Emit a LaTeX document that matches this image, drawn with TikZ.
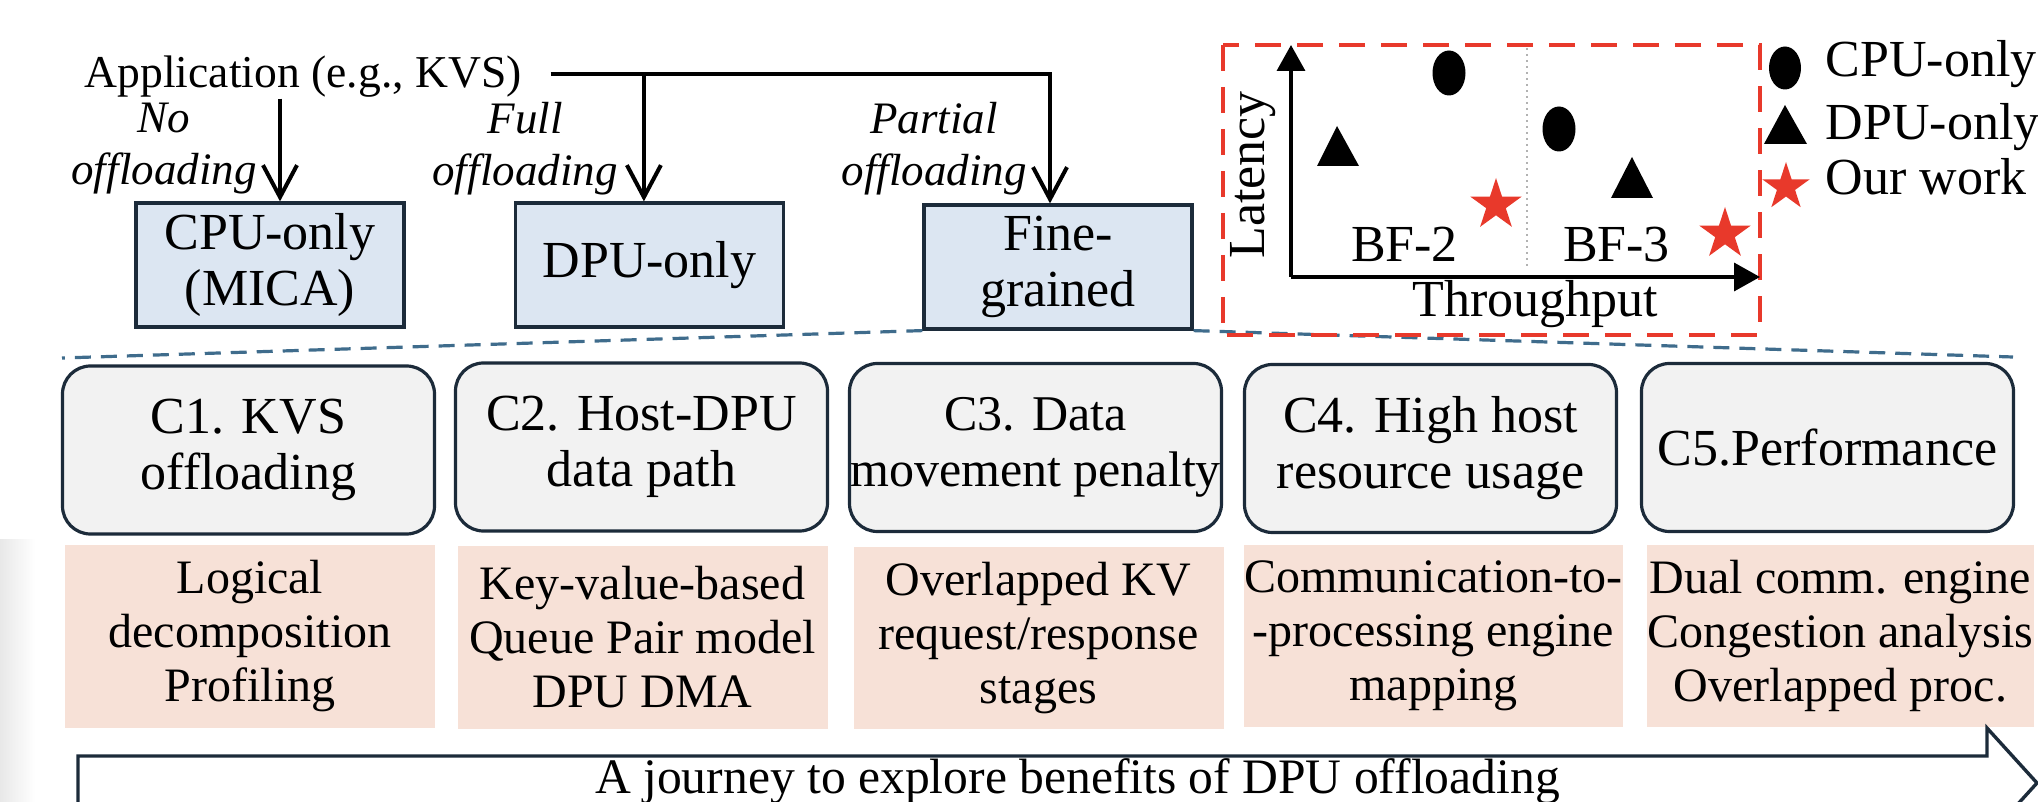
\documentclass[tikz,border=0pt]{standalone}
\usepackage{fontspec}
\setmainfont{Liberation Serif}
\usetikzlibrary{arrows.meta,shapes.geometric,calc}
\definecolor{boxblue}{HTML}{DCE6F2}
\definecolor{navy}{HTML}{1C2B3A}
\definecolor{cgray}{HTML}{F2F2F2}
\definecolor{peach}{HTML}{F7E1D7}
\definecolor{dashblue}{HTML}{3F6C8C}
\definecolor{starred}{HTML}{E8392B}
\newcommand\fsz[2]{\fontsize{#1}{#2}\selectfont}

\begin{document}
\begin{tikzpicture}[x=0.25pt,y=-0.25pt,
  topbox/.style={draw=navy, line width=0.8pt, fill=boxblue, minimum width=67pt,
    minimum height=31pt, inner sep=0pt, align=center, font=\fsz{13}{14}},
  cbox/.style={draw=navy, line width=0.8pt, fill=cgray, rounded corners=7pt,
    minimum width=93pt, minimum height=42pt, inner sep=0pt, align=center, font=\fsz{13}{14}},
  solbox/.style={fill=peach, minimum width=92.5pt, minimum height=45.5pt, inner sep=0pt,
    align=center, font=\fsz{12}{13.5}},
  modetext/.style={font=\itshape\fsz{11.25}{13}, align=center, inner sep=0pt},
  flow/.style={line width=0.85pt},
  flowarr/.style={flow, -{Straight Barb[length=8pt,width=8.5pt,line width=1pt]}},
  zoomline/.style={dashblue, line width=0.8pt, dash pattern=on 4pt off 2.5pt},
  reddash/.style={starred, line width=0.9pt, dash pattern=on 6.5pt off 4pt},
  axisarr/.style={line width=0.9pt, -{Triangle[length=6.5pt,width=7pt]}},
  plottext/.style={font=\fsz{13}{14}, inner sep=0pt},
  ourstar/.style={star, star points=5, star point ratio=2.618, fill=starred,
    draw=none, inner sep=0pt, minimum size=13.5pt},
]
\useasboundingbox (0,0) rectangle (2038,802);

% faint page shadow on the left
\shade[left color=black!9, right color=white] (0,540) rectangle (35,802);

% ---- offloading choices ----
\node[font=\fsz{11.4}{13}, inner sep=0pt, anchor=base west] (app) at (84,88) {Application (e.g., KVS)};

\node[topbox] (cpu)  at (270,265)  {CPU-only\\(MICA)};
\node[topbox] (dpu)  at (649.5,265) {DPU-only};
\node[topbox] (fine) at (1058,267) {Fine-\\grained};

\node[modetext] (m1) at (164,149) {No\\offloading};
\node[modetext] (m2) at (525,149) {Full\\offloading};
\node[modetext] (m3) at (934,149) {Partial\\offloading};

\coordinate (bus) at ([xshift=7pt,yshift=0.75pt]app.east);
\draw[flowarr] ([xshift=2.5pt]cpu.north |- app.south) -- ([xshift=2.5pt]cpu.north);
\draw[flowarr] (bus) -| ([xshift=-2pt]fine.north);
\draw[flowarr] ([xshift=-1.4pt]dpu.north |- bus) -- ([xshift=-1.4pt]dpu.north);

% ---- zoom-out lines from the fine-grained design ----
\coordinate (zl) at (62,358);
\coordinate (zr) at (2013,357);
\draw[zoomline] (fine.south west) -- (zl);
\draw[zoomline] (fine.south east) -- (zr);

% ---- latency / throughput sketch ----
\draw[reddash, fill=none] (1223,45) rectangle (1760,335);
\coordinate (origin) at (1291,277);
\coordinate (ytop) at (1291,45);
\coordinate (xend) at (1760,277);
\draw[axisarr] (origin) -- (ytop);
\draw[axisarr] (origin) -- (xend);
\draw[gray!60, line width=0.55pt, dash pattern=on 0.6pt off 0.9pt] (1527,48) -- (1527,268);

\fill (1449,73) ellipse [x radius=16.5, y radius=22.5];
\fill (1559,129) ellipse [x radius=16.5, y radius=22.5];
\fill (1337,126) -- (1359,166) -- (1317,166) -- cycle;
\fill (1632,157) -- (1653,198) -- (1611,198) -- cycle;
\node[ourstar] (s2) at (1496,205) {};
\node[ourstar] (s3) at (1725,234) {};

\node[plottext, anchor=base] (bf2) at (1404.5,262) {BF-2};
\node[plottext, anchor=base] (bf3) at (1616.5,262) {BF-3};
\node[plottext, anchor=base] (thr) at (1535,317) {Throughput};
\node[plottext, rotate=90] (lat) at (1253,175) {Latency};

% legend
\fill (1785,68) ellipse [x radius=16, y radius=21.5];
\node[plottext, anchor=base west] (lg1) at (1825,77) {CPU-only};
\fill (1785,105) -- (1807,144) -- (1764,144) -- cycle;
\node[plottext, anchor=base west] (lg2) at (1825,140) {DPU-only};
\node[ourstar, minimum size=12.5pt] (lg3s) at (1786,187) {};
\node[plottext, anchor=base west] (lg3) at (1825,195) {Our work};

% ---- challenges ----
\node[cbox] (c1) at (248.5,450)  {C1. KVS\\offloading};
\node[cbox] (c2) at (641.5,447)  {C2. Host-DPU\\data path};
\node[cbox, font=\fsz{12.5}{14}] (c3) at (1035.5,447.5) {C3. Data\\movement penalty};
\node[cbox] (c4) at (1430.5,448.5) {C4. High host\\resource usage};
\node[cbox] (c5) at (1827.5,447.5) {C5.Performance};

% ---- solutions ----
\node[solbox] (p1) at (250,636.5)  {Logical\\decomposition\\Profiling};
\node[solbox] (p2) at (642.5,637.5) {Key-value-based\\Queue Pair model\\DPU DMA};
\node[solbox] (p3) at (1038.5,638) {Overlapped KV\\request/response\\stages};
\node[solbox, minimum width=93.75pt] (p4) at (1433.5,636) {Communication-to-\\-processing engine\\mapping};
\node[solbox, minimum width=96.75pt] (p5) at (1840.5,636) {Dual comm. engine\\Congestion analysis\\Overlapped proc.};

% ---- journey arrow ----
\draw[navy, line width=0.85pt, fill=white]
  (78,756) -- (1987,756) -- (1987,728) -- (2037,783) -- (1987,838) -- (1987,810) -- (78,810) -- cycle;
\node[font=\fsz{12.4}{14}, anchor=base, inner sep=0pt] (journey) at (1077.5,793)
  {A journey to explore benefits of DPU offloading};
\end{tikzpicture}
\end{document}
